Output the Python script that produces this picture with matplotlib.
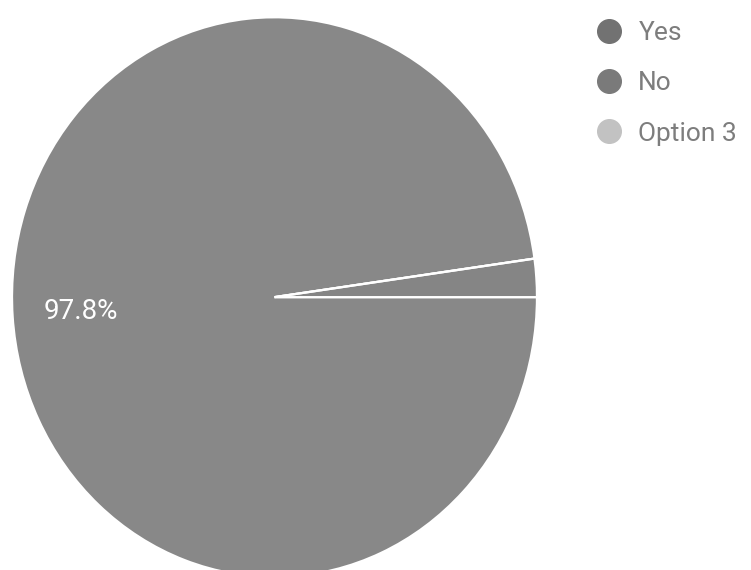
import matplotlib
matplotlib.use("Agg")
import matplotlib.pyplot as plt
from matplotlib.lines import Line2D

plt.rcParams['font.family'] = ['Roboto', 'DejaVu Sans']

labels = ["Yes", "No", "Option 3"]
values = [97.8, 2.2, 0.0]
colors = ["#888888", "#858585", "#c4c4c4"]
legend_colors = ["#727272", "#7a7a7a", "#c2c2c2"]

fig = plt.figure(figsize=(7.51, 5.70), dpi=100)
ax = fig.add_axes([0.016, -0.0123, 0.699, 0.982])

wedges, texts, autotexts = ax.pie(
    values, colors=colors, startangle=360 * values[1] / 100, counterclock=True,
    autopct=lambda p: f"{p:.1f}%" if p > 5 else "", pctdistance=0.74,
    wedgeprops=dict(edgecolor="white", linewidth=1.6),
    textprops=dict(color="white", fontsize=20),
)

ax.set_xlim(-1, 1)
ax.set_ylim(-1, 1)
ax.set_aspect('auto')
ax.axis('off')

handles = [Line2D([0], [0], marker='o', linestyle='', markersize=17,
                  markerfacecolor=c, markeredgecolor=c) for c in legend_colors]
fig.legend(handles, labels, loc='upper left', bbox_to_anchor=(0.785, 0.975),
           frameon=False, fontsize=19, labelcolor="#7d7d7d",
           borderaxespad=0.0, borderpad=0.25,
           handletextpad=0.6, labelspacing=1.0, handlelength=1.0)

fig.savefig("out.png", dpi=100, facecolor="white")
